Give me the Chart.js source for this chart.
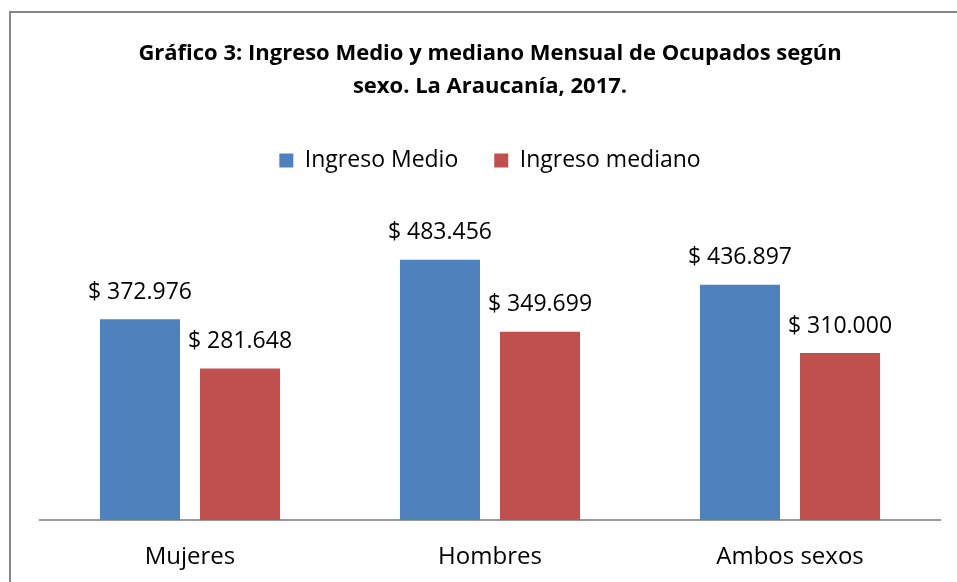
<!DOCTYPE html>
<html>
<head>
<meta charset="utf-8">
<script src="https://cdn.jsdelivr.net/npm/chart.js@4/dist/chart.umd.min.js"></script>
<style>
  html, body { margin: 0; padding: 0; background: #fff; }
  #wrap { width: 957px; height: 582px; position: relative; }
</style>
</head>
<body>
<div id="wrap"><canvas id="c" width="957" height="582"></canvas></div>
<script>
const categories = ["Mujeres", "Hombres", "Ambos sexos"];
const seriesNames = ["Ingreso Medio", "Ingreso mediano"];
const ingresoMedio = [372976, 483456, 436897];
const ingresoMediano = [281648, 349699, 310000];
const titleLines = ["Gráfico 3: Ingreso Medio y mediano Mensual de Ocupados según", "sexo. La Araucanía, 2017."];

const FONT = "'Open Sans', 'Liberation Sans', sans-serif";
const LEGEND_EXTRA = 15;

function fmt(v) {
  return "$ " + String(v).replace(/\B(?=(\d{3})+(?!\d))/g, ".");
}

const frame = {
  id: 'frame',
  beforeLayout(chart) {
    const lg = chart.legend;
    if (lg && !lg._patched) {
      lg._patched = true;
      const origFit = lg.fit;
      lg.fit = function () { origFit.apply(this, arguments); this.height += LEGEND_EXTRA; };
    }
  },
  beforeDraw(chart) {
    const ctx = chart.ctx;
    ctx.save();
    ctx.fillStyle = '#fff';
    ctx.fillRect(0, 0, chart.width, chart.height);
    ctx.strokeStyle = '#868686';
    ctx.lineWidth = 2;
    ctx.strokeRect(10, 12, chart.width + 20, chart.height + 20);
    ctx.restore();
  }
};

const valueLabels = {
  id: 'valueLabels',
  afterDatasetsDraw(chart) {
    const ctx = chart.ctx;
    ctx.save();
    ctx.font = "23px " + FONT;
    ctx.fillStyle = '#000';
    ctx.textAlign = 'center';
    ctx.textBaseline = 'middle';
    chart.data.datasets.forEach((ds, i) => {
      const meta = chart.getDatasetMeta(i);
      meta.data.forEach((bar, j) => {
        ctx.fillText(fmt(ds.data[j]), bar.x, bar.y - 27);
      });
    });
    ctx.restore();
  }
};

new Chart(document.getElementById('c'), {
  type: 'bar',
  data: {
    labels: categories,
    datasets: [
      { label: seriesNames[0], data: ingresoMedio, backgroundColor: '#4F81BD', categoryPercentage: 0.667, barPercentage: 0.8 },
      { label: seriesNames[1], data: ingresoMediano, backgroundColor: '#C0504D', categoryPercentage: 0.667, barPercentage: 0.8 }
    ]
  },
  options: {
    responsive: false,
    animation: false,
    devicePixelRatio: 1,
    layout: { padding: { left: 40, right: 17, top: 0, bottom: 0 } },
    plugins: {
      title: {
        display: true,
        text: titleLines,
        color: '#000',
        font: { family: FONT, size: 22, weight: 'bold', lineHeight: 1.5 },
        padding: { top: 37, bottom: 10 }
      },
      legend: {
        display: true,
        position: 'top',
        labels: {
          color: '#000',
          font: { family: FONT, size: 23 },
          boxWidth: 14,
          boxHeight: 14,
          padding: 36
        }
      },
      tooltip: { enabled: false }
    },
    scales: {
      x: {
        grid: { display: false },
        border: { display: true, color: '#9a9a9a', width: 2 },
        ticks: { color: '#000', font: { family: FONT, size: 24 }, padding: 15 },
        afterFit(scale) { scale.height = 62; }
      },
      y: {
        display: false,
        min: 0,
        max: 600000
      }
    }
  },
  plugins: [frame, valueLabels]
});
</script>
</body>
</html>
